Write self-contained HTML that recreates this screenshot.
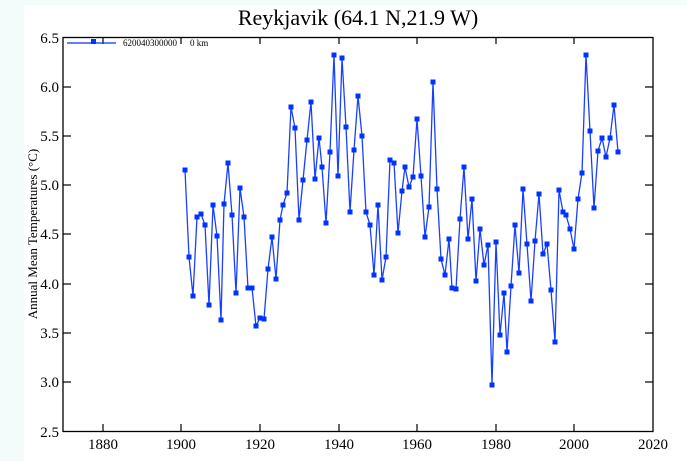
<!DOCTYPE html>
<html><head><meta charset="utf-8"><style>
html,body{margin:0;padding:0;background:#f4fbfb;}
svg{display:block}
</style></head><body>
<svg width="687" height="461" xmlns="http://www.w3.org/2000/svg" font-family="Liberation Serif, serif">
<defs>
<marker id="sq" markerWidth="6" markerHeight="6" refX="3" refY="3" markerUnits="userSpaceOnUse">
<rect x="0.5" y="0.5" width="5" height="5" fill="#0033ff"/>
</marker>
</defs>
<rect x="24" y="5" width="663" height="456" fill="#fff"/>
<text x="358" y="25" font-size="22" text-anchor="middle">Reykjavik (64.1 N,21.9 W)</text>
<rect x="63" y="37.5" width="590" height="394" fill="none" stroke="#000" stroke-width="1.3"/>
<g stroke="#000" stroke-width="1.2">
<line x1="103" y1="431" x2="103" y2="424"/><line x1="181" y1="431" x2="181" y2="424"/><line x1="260" y1="431" x2="260" y2="424"/><line x1="339" y1="431" x2="339" y2="424"/><line x1="417" y1="431" x2="417" y2="424"/><line x1="496" y1="431" x2="496" y2="424"/><line x1="574" y1="431" x2="574" y2="424"/>
<line x1="103" y1="38" x2="103" y2="44"/><line x1="181" y1="38" x2="181" y2="44"/><line x1="260" y1="38" x2="260" y2="44"/><line x1="339" y1="38" x2="339" y2="44"/><line x1="417" y1="38" x2="417" y2="44"/><line x1="496" y1="38" x2="496" y2="44"/><line x1="574" y1="38" x2="574" y2="44"/>
<line x1="63" y1="87" x2="71" y2="87"/><line x1="63" y1="136" x2="71" y2="136"/><line x1="63" y1="185" x2="71" y2="185"/><line x1="63" y1="234" x2="71" y2="234"/><line x1="63" y1="284" x2="71" y2="284"/><line x1="63" y1="333" x2="71" y2="333"/><line x1="63" y1="382" x2="71" y2="382"/>
<line x1="653" y1="87" x2="645" y2="87"/><line x1="653" y1="136" x2="645" y2="136"/><line x1="653" y1="185" x2="645" y2="185"/><line x1="653" y1="234" x2="645" y2="234"/><line x1="653" y1="284" x2="645" y2="284"/><line x1="653" y1="333" x2="645" y2="333"/><line x1="653" y1="382" x2="645" y2="382"/>
</g>
<g font-size="15" text-anchor="middle">
<text x="103" y="449">1880</text><text x="181" y="449">1900</text><text x="260" y="449">1920</text><text x="339" y="449">1940</text><text x="417" y="449">1960</text><text x="496" y="449">1980</text><text x="574" y="449">2000</text><text x="653" y="449">2020</text>
</g>
<g font-size="15" text-anchor="end">
<text x="59" y="43">6.5</text><text x="59" y="92">6.0</text><text x="59" y="141">5.5</text><text x="59" y="190">5.0</text><text x="59" y="239">4.5</text><text x="59" y="289">4.0</text><text x="59" y="338">3.5</text><text x="59" y="387">3.0</text><text x="59" y="437">2.5</text>
</g>
<text transform="translate(37,234) rotate(-90)" font-size="13" text-anchor="middle">Annual Mean Temperatures (°C)</text>
<line x1="67" y1="43" x2="116" y2="43" stroke="#0033ff" stroke-width="1.3"/>
<rect x="91" y="39" width="5" height="5" fill="#0033ff"/>
<text x="123" y="46" font-size="9">620040300000</text>
<text x="190" y="46" font-size="9">0 km</text>
<polyline fill="none" stroke="#1a40ff" stroke-width="1.3" marker-start="url(#sq)" marker-mid="url(#sq)" marker-end="url(#sq)" points="185,170 189,257 193,296 197,217 201,214 205,225 209,305 213,205 217,236 221,320 224,204 228,163 232,215 236,293 240,188 244,217 248,288 252,288 256,326 260,318 264,319 268,269 272,237 276,279 280,220 283,205 287,193 291,107 295,128 299,220 303,180 307,140 311,102 315,179 319,138 322,167 326,223 330,152 334,55 338,176 342,58 346,127 350,212 354,150 358,96 362,136 366,212 370,225 374,275 378,205 382,280 386,257 390,160 394,163 398,233 402,191 405,167 409,187 413,177 417,119 421,176 425,237 429,207 433,82 437,189 441,259 445,275 449,239 452,288 456,289 460,219 464,167 468,239 472,199 476,281 480,229 484,265 488,245 492,385 496,242 500,335 504,293 507,352 511,286 515,225 519,273 523,189 527,244 531,301 535,241 539,194 543,254 547,244 551,290 555,342 559,190 563,212 566,215 570,229 574,249 578,199 582,173 586,55 590,131 594,208 598,151 602,138 606,157 610,138 614,105 618,152"/>
</svg>
</body></html>
